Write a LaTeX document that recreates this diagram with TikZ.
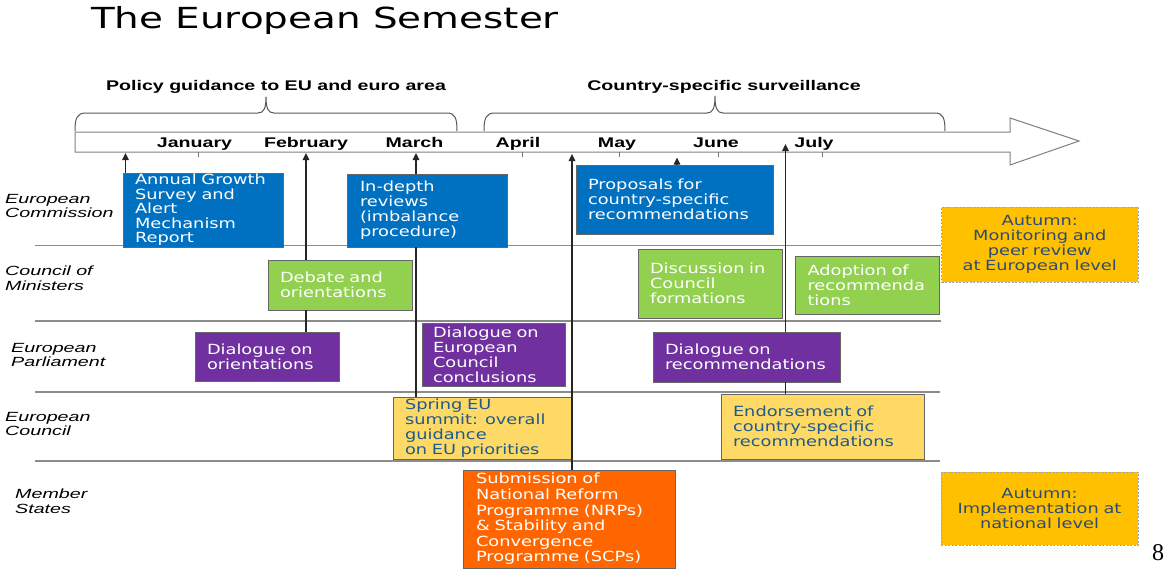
\documentclass[tikz,border=0pt]{standalone}
\usepackage{fontspec}
\usetikzlibrary{arrows.meta}
\newfontfamily\boxfont[FakeStretch=1.27]{DejaVu Sans}
\newfontfamily\titlefont[FakeStretch=1.34]{DejaVu Sans}
\newfontfamily\hdrfont[FakeStretch=1.4]{Liberation Sans}
\newfontfamily\lblfont[FakeStretch=1.48]{Liberation Sans}
\newfontfamily\numfont{Liberation Serif}
\definecolor{ecblue}{RGB}{0,112,192}
\definecolor{cmgreen}{RGB}{146,208,80}
\definecolor{eppurple}{RGB}{112,48,160}
\definecolor{ecyellow}{RGB}{255,217,102}
\definecolor{msorange}{RGB}{255,102,0}
\definecolor{autgold}{RGB}{255,192,0}
\definecolor{yeltext}{RGB}{30,90,140}
\definecolor{auttext}{RGB}{45,75,115}
\definecolor{sepgray}{RGB}{140,140,140}
\hyphenpenalty=10000
\exhyphenpenalty=10000
\tikzset{
  ebox/.style={draw=black!60, line width=0.9pt, inner xsep=12pt, inner ysep=0pt,
    align=left, font=\boxfont\fontsize{14}{15}\selectfont},
  ecbox/.style={ebox, fill=ecblue, text=white},
  grbox/.style={ebox, fill=cmgreen, text=white},
  pubox/.style={ebox, fill=eppurple, text=white},
  yebox/.style={ebox, fill=ecyellow, text=yeltext},
  orbox/.style={ebox, fill=msorange, text=white},
  aubox/.style={ebox, fill=autgold, draw=black!35, dash pattern=on 2pt off 1.5pt,
    line width=0.8pt, align=center, text=auttext},
  rowlbl/.style={anchor=west, align=left, inner sep=0pt,
    font=\lblfont\itshape\fontsize{13.3}{14.6}\selectfont},
  monthlbl/.style={anchor=base, inner sep=0pt, font=\hdrfont\bfseries\fontsize{14}{16}\selectfont},
  hdr/.style={anchor=base, inner sep=0pt, font=\hdrfont\bfseries\fontsize{14}{16}\selectfont},
  sepline/.style={draw=sepgray, line width=1.5pt},
  timeline/.style={draw=black!50, fill=white, line width=1pt},
  tickmark/.style={draw=black!55, line width=0.8pt},
  bracestyle/.style={draw=black!65, line width=1pt},
  conn/.style={draw=black!85, line width=1.1pt},
  connarr/.style={conn, -{Triangle[width=6.5pt,length=7pt]}},
}
\begin{document}
\begin{tikzpicture}[x=1pt,y=-1pt]
\useasboundingbox[fill=white] (0,0) rectangle (1165,571);

% title
\node[anchor=base west, inner sep=0pt, font=\titlefont\fontsize{29}{32}\selectfont] (title) at (91,28) {The European Semester};

% separators
\draw[sepline] (35,245.5) -- (941,245.5);
\draw[sepline] (35,321) -- (941,321);
\draw[sepline] (35,392) -- (940,392);
\draw[sepline] (35,461) -- (940,461);

% timeline arrow
\draw[timeline] (75,132) -- (1010,132) -- (1010,118) -- (1079,141) -- (1010,165) -- (1010,152) -- (75,152) -- cycle;
\foreach \tx in {198,522,619,718,822}{\draw[tickmark] (\tx,152) -- (\tx,157);}

% braces
\draw[bracestyle] (75,131) .. controls (75,118) and (77,113) .. (86,113) -- (258,113)
  .. controls (264,113) and (266,108) .. (266,97) .. controls (266,108) and (268,113) .. (274,113)
  -- (447,113) .. controls (455,113) and (457,118) .. (457,131);
\draw[bracestyle] (484,131) .. controls (484,118) and (486,113) .. (495,113) -- (707,113)
  .. controls (713,113) and (715,108) .. (715,96) .. controls (715,108) and (717,113) .. (723,113)
  -- (935,113) .. controls (943,113) and (945,118) .. (945,131);
\node[hdr] (hdrA) at (276,90) {Policy guidance to EU and euro area};
\node[hdr] (hdrB) at (724,90) {Country-specific surveillance};

% months
\node[monthlbl] (mJan) at (194.5,147.5) {January};
\node[monthlbl] (mFeb) at (306,147.5) {February};
\node[monthlbl] (mMar) at (414.5,147.5) {March};
\node[monthlbl] (mApr) at (518,147.5) {April};
\node[monthlbl] (mMay) at (617,147.5) {May};
\node[monthlbl] (mJun) at (716,147.5) {June};
\node[monthlbl] (mJul) at (814,147.5) {July};

% row labels
\node[rowlbl] (rEC) at (5,206) {European\\Commission};
\node[rowlbl] (rCM) at (5,278) {Council of\\Ministers};
\node[rowlbl] (rEP) at (11,355) {European\\Parliament};
\node[rowlbl] (rEU) at (5,424) {European\\Council};
\node[rowlbl] (rMS) at (15,501) {Member\\States};

% boxes
\node[ecbox, text width=136pt, minimum height=74pt, font=\boxfont\fontsize{14}{14.5}\selectfont] (ags) at (203,210)
  {Annual Growth\\Survey and\\Alert\\Mechanism\\Report};
\node[ecbox, text width=134pt, inner xsep=13pt, minimum height=73pt] (indepth) at (427,210.5)
  {In-depth\\reviews\\(imbalance\\procedure)};
\node[ecbox, text width=173pt, minimum height=69pt] (prop) at (674.5,199.5)
  {Proposals for\\country-specific\\recommendations};

\node[grbox, text width=120pt, minimum height=50pt] (debate) at (340,285)
  {Debate and\\orientations};
\node[grbox, text width=120pt, minimum height=69pt] (discuss) at (710,283.5)
  {Discussion in\\Council\\formations};
\node[grbox, text width=119.5pt, minimum height=58pt] (adopt) at (867.25,285)
  {Adoption of\\recommenda\\tions};
\node[aubox, text width=172.5pt, minimum height=75pt] (autmon) at (1039.75,244.5)
  {Autumn:\\Monitoring and\\peer review\\at European level};

\node[pubox, text width=120pt, minimum height=49pt] (dialor) at (267,356.5)
  {Dialogue on\\orientations};
\node[pubox, text width=121pt, inner xsep=11pt, minimum height=63pt] (dialec) at (493.5,354.5)
  {Dialogue on\\European\\Council\\conclusions};
\node[pubox, text width=163pt, minimum height=50pt] (dialrec) at (746.5,357)
  {Dialogue on\\recommendations};

\node[yebox, text width=155pt, minimum height=62pt] (spring) at (482.5,428)
  {Spring EU\\summit: overall\\guidance\\on EU priorities};
\node[yebox, text width=179pt, minimum height=65pt] (endorse) at (822.5,426.5)
  {Endorsement of\\country-specific\\recommendations};

\node[orbox, text width=186pt, inner xsep=13pt, minimum height=98pt, font=\boxfont\fontsize{14}{15.6}\selectfont] (sub) at (569,519)
  {Submission of\\National Reform\\Programme (NRPs)\\\& Stability and\\Convergence\\Programme (SCPs)};
\node[aubox, text width=173pt, minimum height=73pt] (autimp) at (1039.5,508.5)
  {Autumn:\\Implementation at\\national level};

% page number
\node[anchor=base, inner sep=0pt, font=\numfont\fontsize{24}{26}\selectfont] (pnum) at (1158,560) {8};

% connectors
\coordinate (tA) at (125.5,153);
\coordinate (tB) at (306,153);
\coordinate (tC) at (416,153);
\coordinate (tD) at (572,154);
\coordinate (tE) at (677,157.5);
\coordinate (tF) at (785.5,144);
\draw[connarr] (tA |- ags.north) -- (tA);
\draw[connarr] (tB |- debate.north) -- (tB);
\draw[conn] (tB |- debate.south) -- (tB |- dialor.north);
\draw[connarr] (tC |- indepth.north) -- (tC);
\draw[conn] (tC |- indepth.south) -- (tC |- spring.north);
\draw[connarr] (tD |- sub.north) -- (tD);
\draw[connarr] (tE |- prop.north) -- (tE);
\draw[connarr] (tF |- dialrec.north) -- (tF);
\draw[conn] (tF |- dialrec.south) -- (tF |- endorse.north);
\end{tikzpicture}
\end{document}
